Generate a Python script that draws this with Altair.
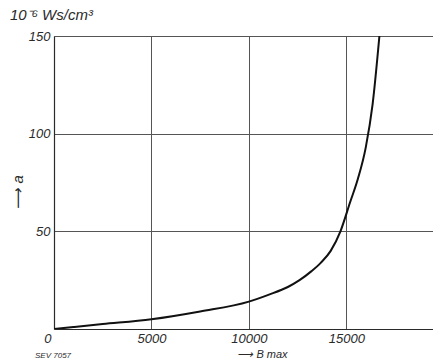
import altair as alt
import pandas as pd

# Data
b_max = [0, 1000, 2500, 5000, 7500, 10000, 11000, 12000, 12600, 13200, 13700,
         14200, 14700, 15200, 15600, 16000, 16350, 16700]
a_val = [0, 1, 2.5, 5, 9, 14, 17.5, 21.5, 25, 29.5, 34, 40, 50, 65, 77, 93, 115, 150]

x_ticks = [0, 5000, 10000, 15000]
y_ticks = [50, 100, 150]

df = pd.DataFrame({"B": b_max, "a": a_val})

FONT = "Liberation Sans"
INK = "#2a2a2a"

xscale = alt.Scale(domain=[0, 19450], nice=False, zero=False)
yscale = alt.Scale(domain=[0, 150], nice=False)

line = alt.Chart(df).mark_line(color="#111", strokeWidth=2, interpolate="monotone", clip=True).encode(
    x=alt.X("B:Q", scale=xscale,
            axis=alt.Axis(values=x_ticks, format="d", grid=True, gridColor="#555", gridWidth=1,
                          ticks=False, domainColor=INK, domainWidth=1.2,
                          labelFont=FONT, labelFontStyle="italic", labelFontSize=13,
                          labelColor=INK, labelPadding=3,
                          labelAlign={"condition": {"test": "datum.value == 0", "value": "right"}, "value": "center"},
                          labelOffset={"condition": {"test": "datum.value == 0", "value": -3}, "value": 0},
                          title="⟶ B max", titleFont=FONT, titleFontStyle="italic",
                          titleFontWeight="normal", titleFontSize=11, titleColor=INK,
                          titleX=208, titleY=25, titleBaseline="middle")),
    y=alt.Y("a:Q", scale=yscale,
            axis=alt.Axis(values=y_ticks, format="d", grid=True, gridColor="#555", gridWidth=1,
                          ticks=False, domainColor=INK, domainWidth=1.2,
                          labelFont=FONT, labelFontStyle="italic", labelFontSize=13,
                          labelColor=INK, labelPadding=4,
                          title="⟶ a", titleFont=FONT, titleFontStyle="italic",
                          titleFontWeight="normal", titleFontSize=15, titleColor=INK,
                          titleAngle=270, titleX=-37, titleY=156,
                          titleAlign="center", titleBaseline="middle")),
)

unit = alt.Chart(pd.DataFrame({"t": ["10⁻⁶ Ws/cm³"]})).mark_text(
    align="left", baseline="middle", font=FONT, fontSize=15, fontStyle="italic", color=INK
).encode(x=alt.value(-44), y=alt.value(-21), text="t:N")

sev = alt.Chart(pd.DataFrame({"t": ["SEV 7057"]})).mark_text(
    align="left", baseline="middle", font=FONT, fontSize=8, fontStyle="italic", color=INK
).encode(x=alt.value(-19), y=alt.value(320), text="t:N")

chart = alt.layer(line, unit, sev).properties(
    width=379, height=293,
    autosize=alt.AutoSizeParams(type="none"),
    padding={"left": 54, "top": 36, "right": 0, "bottom": 32},
    background="white",
).configure_view(stroke=None)

chart.save("out.html", embed_options={"renderer": "svg", "actions": False})
